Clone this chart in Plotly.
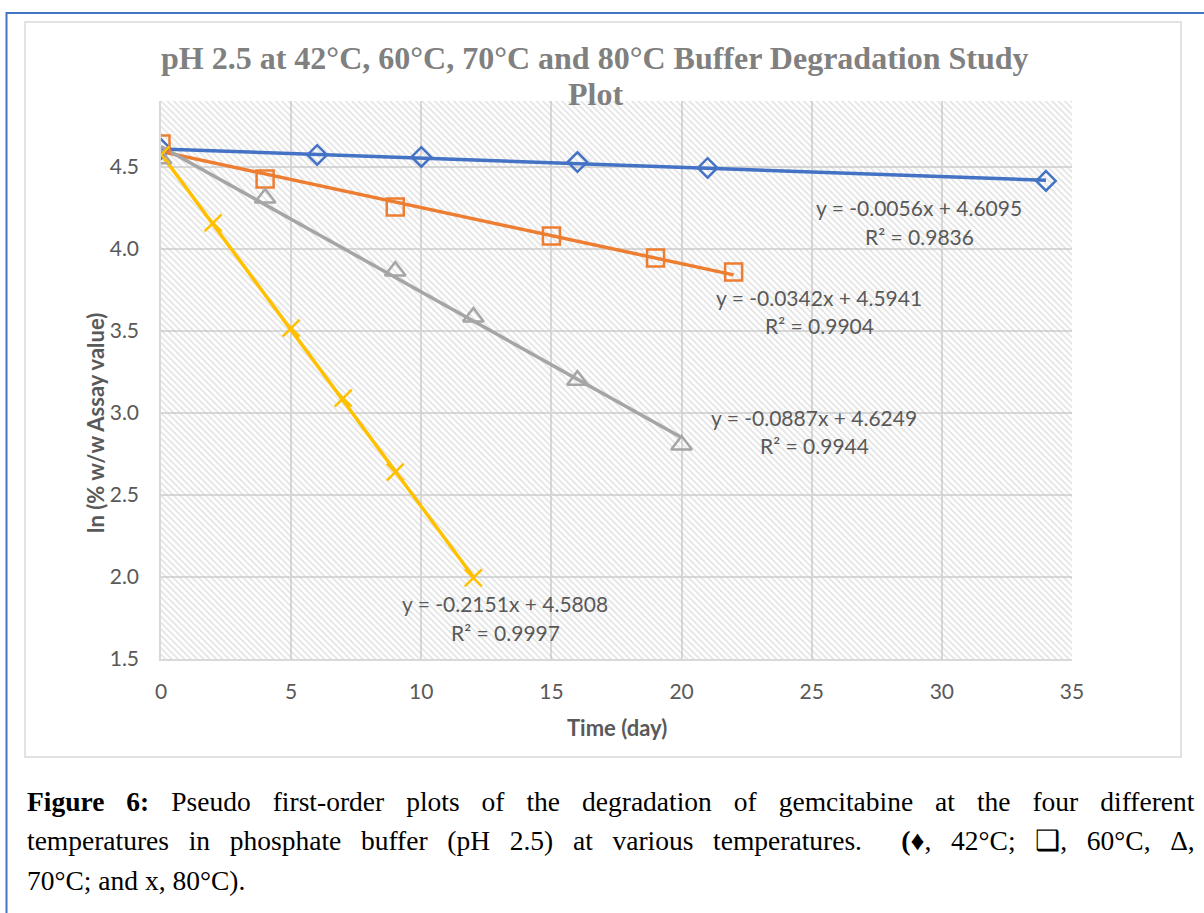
import plotly.graph_objects as go

# ---------------- data ----------------
x_42 = [0, 6, 10, 16, 21, 34]
y_42 = [4.61, 4.573, 4.561, 4.530, 4.494, 4.415]
x_60 = [0, 4, 9, 15, 19, 22]
y_60 = [4.64, 4.427, 4.256, 4.079, 3.945, 3.86]
x_70 = [0, 4, 9, 12, 16, 20]
y_70 = [4.55, 4.31, 3.866, 3.585, 3.20, 2.805]
x_80 = [0, 2, 5, 7, 9, 12]
y_80 = [4.573, 4.159, 3.518, 3.091, 2.64, 1.994]

slopes = [-0.0056, -0.0342, -0.0887, -0.2151]
intercepts = [4.6095, 4.5941, 4.6249, 4.5808]
r2 = [0.9836, 0.9904, 0.9944, 0.9997]

x_ticks = [0, 5, 10, 15, 20, 25, 30, 35]
y_ticks = [1.5, 2.0, 2.5, 3.0, 3.5, 4.0, 4.5]

# ---------------- layout constants ----------------
FW, FH = 1204, 913
L, R, T, B = 161, 1072, 101, 659
XR = [0, 35]
YR = [1.5, 4.902]

def px(x):
    return (x - L) / (R - L)

def py(y):
    return (B - y) / (B - T)

TXT = "#595959"
GRID = "#d9d9d9"
SANS = "Lato"
colors = ["#4472C4", "#ED7D31", "#A5A5A5", "#FFC000"]
symbols = ["diamond-open", "square-open", "triangle-up-open", "x-thin-open"]
msizes = [15, 17, 18, 17]

fig = go.Figure()

# hatched plot-area background
fig.add_trace(go.Scatter(
    x=[XR[0], XR[1], XR[1], XR[0], XR[0]],
    y=[YR[0], YR[0], YR[1], YR[1], YR[0]],
    mode="lines", line=dict(width=0, color="rgba(0,0,0,0)"),
    fill="toself", fillcolor="rgba(0,0,0,0)",
    fillpattern=dict(shape="\\", fgcolor="#c4c4c4", bgcolor="rgba(0,0,0,0)",
                     size=4.5, solidity=0.35),
    hoverinfo="skip", showlegend=False))

series = [(x_42, y_42), (x_60, y_60), (x_70, y_70), (x_80, y_80)]
names = ["42°C", "60°C", "70°C", "80°C"]
for i, (xs, ys) in enumerate(series):
    x0, x1 = min(xs), max(xs)
    fig.add_trace(go.Scatter(
        x=[x0, x1], y=[slopes[i] * x0 + intercepts[i], slopes[i] * x1 + intercepts[i]],
        mode="lines", line=dict(color=colors[i], width=3.5),
        showlegend=False, hoverinfo="skip"))
for i, (xs, ys) in enumerate(series):
    fig.add_trace(go.Scatter(
        x=xs, y=ys, mode="markers", name=names[i],
        marker=dict(symbol=symbols[i], size=msizes[i], color=colors[i],
                    line=dict(color=colors[i], width=2.5)),
        showlegend=False))

ann = []
# equations
eq_pos = [(919, 207, 236), (819, 297, 325), (814, 417, 445), (505, 603, 632)]
for i, (cx, y1, y2) in enumerate(eq_pos):
    ann.append(dict(x=px(cx), y=py(y1), xref="paper", yref="paper",
                    text=f"y = {slopes[i]:.4f}x + {intercepts[i]:.4f}",
                    showarrow=False, xanchor="center", yanchor="middle",
                    font=dict(family=SANS, size=21, color=TXT)))
    ann.append(dict(x=px(cx), y=py(y2), xref="paper", yref="paper",
                    text=f"R² = {r2[i]:.4f}",
                    showarrow=False, xanchor="center", yanchor="middle",
                    font=dict(family=SANS, size=21, color=TXT)))

# title
ann.append(dict(x=px(595), y=py(58), xref="paper", yref="paper",
                text="<b>pH 2.5 at 42°C, 60°C, 70°C and 80°C Buffer Degradation Study</b>",
                showarrow=False, xanchor="center", yanchor="middle",
                font=dict(family="Liberation Serif", size=32, color="#808080")))
ann.append(dict(x=px(595), y=py(94), xref="paper", yref="paper",
                text="<b>Plot</b>",
                showarrow=False, xanchor="center", yanchor="middle",
                font=dict(family="Liberation Serif", size=32, color="#808080")))

# axis titles
ann.append(dict(x=px(95), y=py(423), xref="paper", yref="paper",
                text="<b>ln (% w/w Assay value)</b>", textangle=-90,
                showarrow=False, xanchor="center", yanchor="middle",
                font=dict(family=SANS, size=22, color=TXT)))
ann.append(dict(x=px(617), y=py(727), xref="paper", yref="paper",
                text="<b>Time (day)</b>",
                showarrow=False, xanchor="center", yanchor="middle",
                font=dict(family=SANS, size=22, color=TXT)))

# caption (justified first two lines via word-spacing)
cap_font = dict(family="Liberation Serif", size=27.5, color="black")
cap_lines = [
    '<span style="word-spacing:15.1px"><b>Figure 6:</b> Pseudo first-order plots of the degradation of gemcitabine at the four different</span>',
    '<span style="word-spacing:12.8px">temperatures in phosphate buffer (pH 2.5) at various temperatures.  <b>(♦</b>, 42°C; ❑, 60°C, Δ,</span>',
    "70°C; and x, 80°C).",
]
cap_y = [801, 840, 880]
for t, yy in zip(cap_lines, cap_y):
    ann.append(dict(x=px(25), y=py(yy), xref="paper", yref="paper", text=t,
                    showarrow=False, xanchor="left", yanchor="middle",
                    font=cap_font))

shapes = [
    dict(type="rect", xref="paper", yref="paper",
         x0=px(6.5), x1=px(1215), y0=py(13), y1=py(925),
         line=dict(color="#4472C4", width=2), layer="below"),
    dict(type="rect", xref="paper", yref="paper",
         x0=px(25), x1=px(1181), y0=py(22), y1=py(757),
         line=dict(color="#d9d9d9", width=1.5), layer="below"),
]

fig.update_layout(
    width=FW, height=FH,
    margin=dict(l=L, r=FW - R, t=T, b=FH - B),
    paper_bgcolor="white", plot_bgcolor="white",
    annotations=ann, shapes=shapes, showlegend=False,
    xaxis=dict(range=XR, tickvals=x_ticks, ticktext=[str(v) for v in x_ticks],
               showgrid=True, gridcolor=GRID, gridwidth=1.5, zeroline=False,
               showline=True, linecolor=GRID, linewidth=1.5,
               ticks="outside", ticklen=13, tickcolor="rgba(0,0,0,0)",
               tickfont=dict(family=SANS, size=21, color=TXT)),
    yaxis=dict(range=YR, tickvals=y_ticks, ticktext=[f"{v:.1f}" for v in y_ticks],
               showgrid=True, gridcolor=GRID, gridwidth=1.5, zeroline=False,
               showline=True, linecolor=GRID, linewidth=1.5,
               ticks="outside", ticklen=16, tickcolor="rgba(0,0,0,0)",
               tickfont=dict(family=SANS, size=21, color=TXT)),
)

fig.write_html("out.html")
